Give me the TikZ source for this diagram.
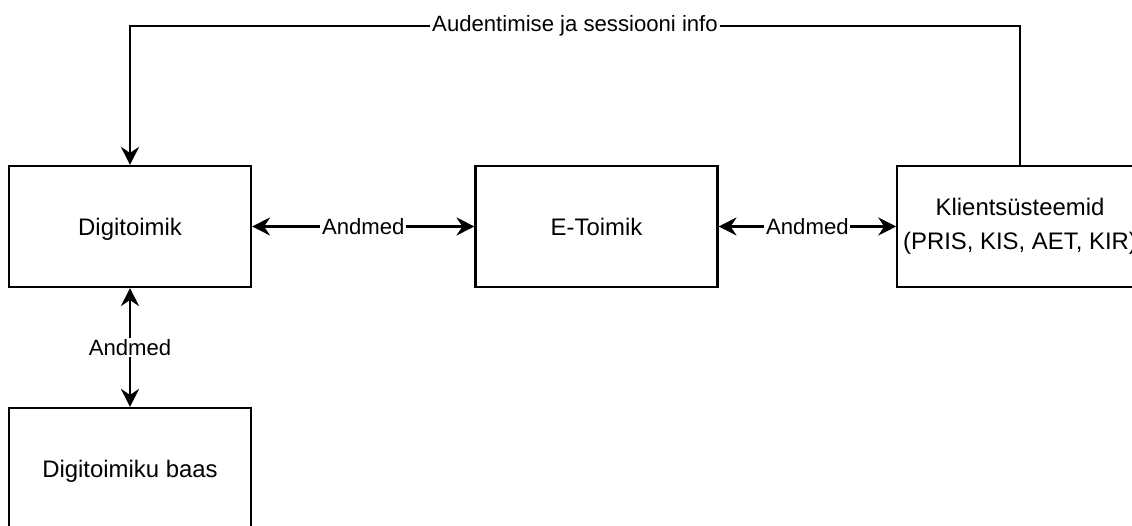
\documentclass[tikz,border=0pt]{standalone}
\usepackage{fontspec}
\setmainfont{Liberation Sans}
\usetikzlibrary{arrows.meta}

\begin{document}
\begin{tikzpicture}[>={Stealth[length=0.36cm, width=0.36cm, inset=0.12cm]},
    box/.style={draw, line width=1.2pt, minimum width=4.84cm, minimum height=2.42cm, align=center, font=\fontsize{13.6}{16}\selectfont},
    lbl/.style={fill=white, inner sep=1pt, font=\fontsize{12.6}{15}\selectfont},
    conn/.style={line width=1.2pt, <->},
    oneway/.style={line width=1.2pt, ->}]
    \useasboundingbox (0,0) rectangle (22.64,-10.52);

    \node[box, text depth=0pt] (digi) at (2.6,-4.53) {Digitoimik};
    \node[box] (etoimik) at (11.93,-4.53) {E-Toimik};
    \node[box] (klient) at (20.4,-4.53) {Klientsüsteemid\\[0.5ex](PRIS, KIS, AET, KIR)};
    \node[box, text depth=0pt] (baas) at (2.6,-9.37) {Digitoimiku baas};

    \coordinate (topline) at (0,-0.52);

    \draw[conn] (digi) -- node[lbl] {Andmed} (etoimik);
    \draw[conn] (etoimik) -- node[lbl] {Andmed} (klient);
    \draw[conn] (digi) -- node[lbl] {Andmed} (baas);

%    session info goes back over the top
    \draw[oneway] (klient.north) -- (klient.north |- topline) -- node[lbl] {Audentimise ja sessiooni info} (digi.north |- topline) -- (digi.north);

\end{tikzpicture}
\end{document}
